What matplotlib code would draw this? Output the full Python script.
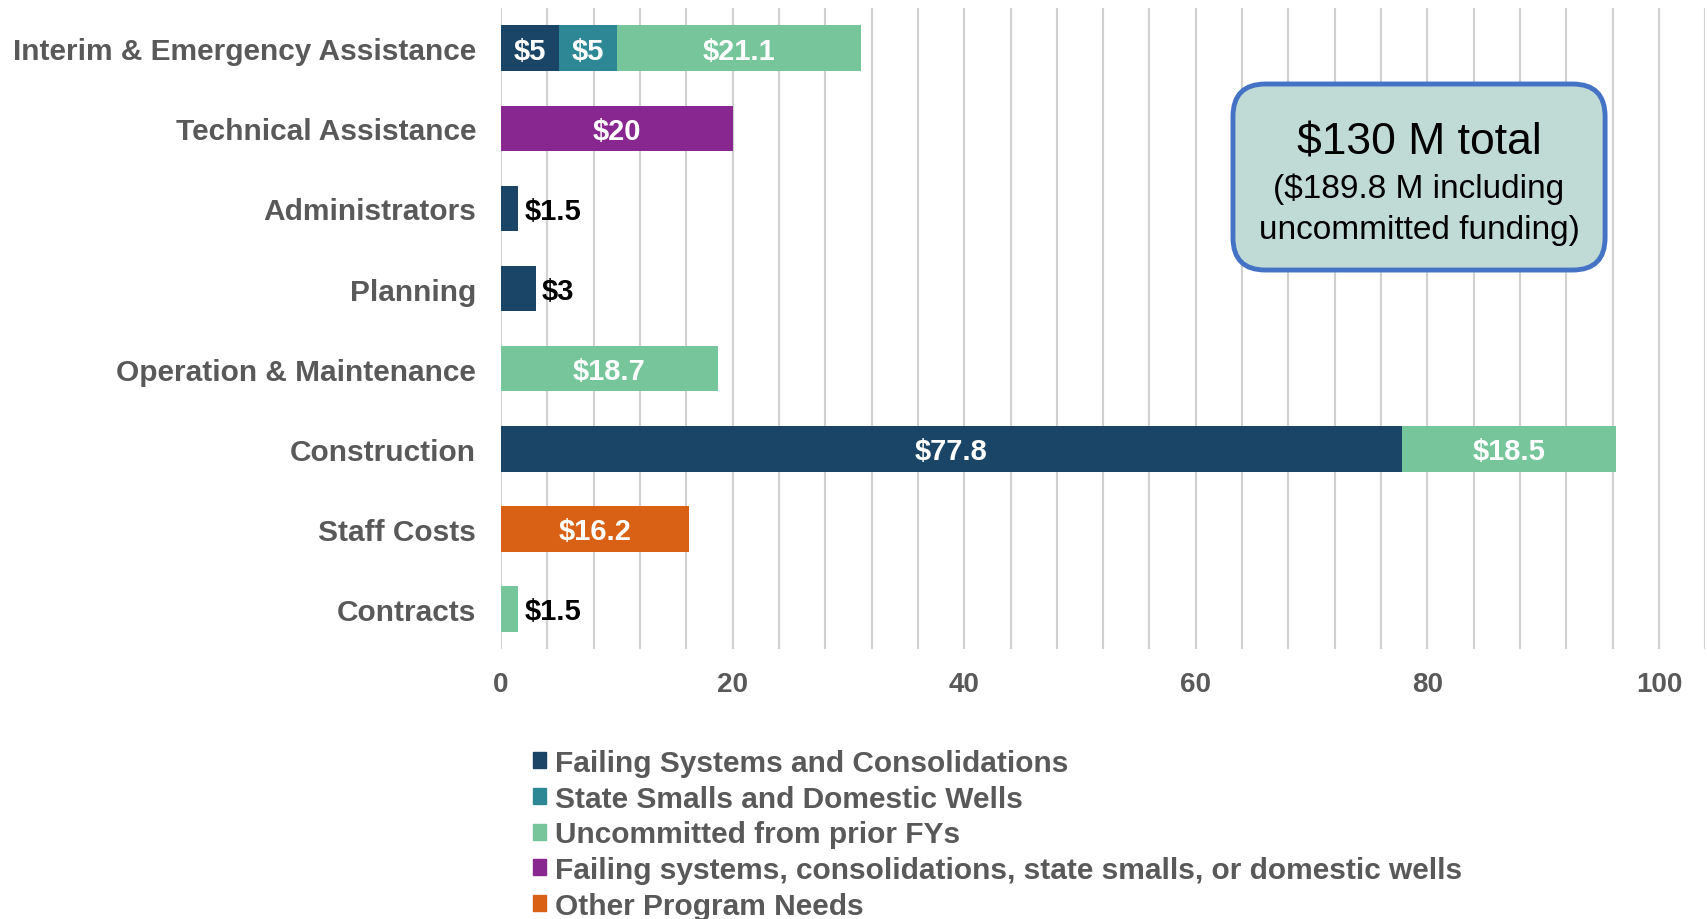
import numpy as np
import matplotlib.pyplot as plt
from matplotlib.patches import Patch, FancyBboxPatch

plt.rcParams['font.family'] = ['Liberation Sans', 'DejaVu Sans']

categories = ['Interim & Emergency Assistance', 'Technical Assistance', 'Administrators',
              'Planning', 'Operation & Maintenance', 'Construction', 'Staff Costs', 'Contracts']
series_names = ['Failing Systems and Consolidations', 'State Smalls and Domestic Wells',
                'Uncommitted from prior FYs',
                'Failing systems, consolidations, state smalls, or domestic wells',
                'Other Program Needs']
failing = [5, 0, 1.5, 3, 0, 77.8, 0, 0]
state_smalls = [5, 0, 0, 0, 0, 0, 0, 0]
uncommitted = [21.1, 0, 0, 0, 18.7, 18.5, 0, 1.5]
combined = [0, 20, 0, 0, 0, 0, 0, 0]
other = [0, 0, 0, 0, 0, 0, 16.2, 0]
colors = ['#1b4566', '#2e8794', '#76c59b', '#88278f', '#d86115']
xticks = [0, 20, 40, 60, 80, 100]

series = [failing, state_smalls, uncommitted, combined, other]
gray = '#595959'

fig = plt.figure(figsize=(17.07, 9.2), dpi=100)
ax = fig.add_axes([0.2935, 0.2935, 0.7055, 0.6965])

y = np.arange(len(categories))
left = np.zeros(len(categories))
for vals, name, c in zip(series, series_names, colors):
    vals = np.array(vals, dtype=float)
    ax.barh(y, vals, left=left, height=0.57, color=c, label=name, zorder=3)
    for i, v in enumerate(vals):
        if v == 0:
            continue
        txt = '\\$%g' % v
        if v < 4:
            ax.text(left[i] + v + 0.5, y[i] + 0.03, txt, ha='left', va='center',
                    fontsize=21, fontweight='bold', color='black', zorder=4)
        else:
            ax.text(left[i] + v / 2, y[i] + 0.03, txt, ha='center', va='center',
                    fontsize=21, fontweight='bold', color='white', zorder=4)
    left += vals

ax.set_xlim(0, 104)
ax.set_ylim(len(categories) - 0.5, -0.5)
ax.set_xticks(xticks)
ax.set_xticks(np.arange(0, 105, 4), minor=True)
ax.set_yticks(y)
ax.set_yticklabels(categories)
ax.grid(axis='x', which='both', color='#d0d0d0', linewidth=1.5, zorder=0)
ax.tick_params(axis='both', which='both', length=0)
ax.tick_params(axis='x', pad=16, labelsize=20, labelcolor=gray)
ax.tick_params(axis='y', pad=18, labelsize=21.5, labelcolor=gray)
for lab in ax.get_xticklabels() + ax.get_yticklabels():
    lab.set_fontweight('bold')
for s in ax.spines.values():
    s.set_visible(False)

handles = [Patch(color=c) for c in colors]
fig.legend(handles, series_names, loc='upper left', bbox_to_anchor=(0.312, 0.185),
           frameon=False, handlelength=0.45, handleheight=0.45,
           handletextpad=0.3, labelspacing=0.26, borderpad=0, borderaxespad=0,
           labelcolor=gray, prop={'weight': 'bold', 'size': 21.5})

W, H = 17.07, 9.2
box = FancyBboxPatch((0.7223, 0.7054), 0.218, 0.2022, transform=fig.transFigure,
                     boxstyle='round,pad=0,rounding_size=0.019', mutation_aspect=W / H,
                     facecolor='#c0dad6', edgecolor='#4472c4', linewidth=3.5, zorder=5)
fig.patches.append(box)
fig.text(0.8313, 0.845, '\\$130 M total', ha='center', va='center', fontsize=32, zorder=6)
fig.text(0.8313, 0.794, '(\\$189.8 M including', ha='center', va='center', fontsize=24, zorder=6)
fig.text(0.8313, 0.750, 'uncommitted funding)', ha='center', va='center', fontsize=24, zorder=6)

fig.savefig('out.png', dpi=100)
